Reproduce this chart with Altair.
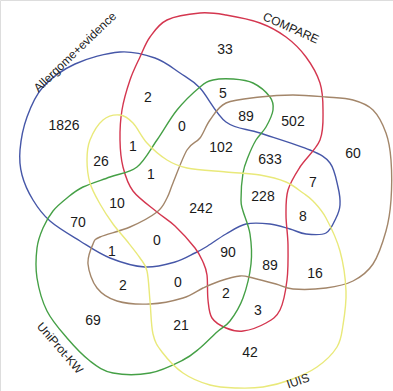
import altair as alt
import pandas as pd

# ---- set outlines (pixel layout of the 5-set Venn shapes) ----
blue_x = [120, 155, 180, 200, 226, 260, 310, 330, 338, 340, 336, 326, 306, 290, 270, 246, 226, 206, 195, 175, 145, 110, 80, 50, 33, 22, 20, 27, 43, 75]
blue_y = [52, 58, 73, 88, 122, 133, 150, 163, 187, 205, 218, 233, 234, 229, 224, 224, 234, 247, 253, 262, 267, 258, 241, 221, 200, 175, 150, 117, 87, 64]

red_x = [200, 226, 260, 286, 306, 320, 323, 320, 300, 288, 286, 288, 287, 280, 266, 243, 226, 212, 208, 207, 203, 195, 175, 157, 133, 123, 120, 122, 130, 140, 150, 167]
red_y = [13, 15, 23, 37, 57, 83, 110, 140, 167, 190, 215, 245, 280, 310, 323, 331, 328, 318, 300, 275, 262, 248, 226, 212, 191, 167, 140, 110, 80, 57, 37, 20]

green_x = [200, 213, 233, 253, 270, 273, 266, 256, 248, 243, 241, 243, 250, 251, 243, 230, 217, 200, 183, 150, 113, 90, 67, 47, 37, 37, 43, 53, 67, 83, 110, 137, 157, 177]
green_y = [87, 80, 79, 83, 97, 110, 127, 140, 157, 173, 200, 211, 234, 264, 298, 321, 332, 348, 360, 373, 373, 361, 338, 311, 278, 248, 228, 211, 198, 187, 177, 167, 140, 110]

brown_x = [200, 210, 226, 260, 293, 326, 353, 373, 386, 391, 391, 386, 373, 353, 326, 293, 276, 253, 240, 220, 203, 183, 150, 117, 97, 88, 93, 100, 130, 157, 167, 173, 187]
brown_y = [138, 120, 103, 97, 95, 97, 100, 110, 133, 160, 200, 231, 264, 281, 288, 289, 284, 278, 276, 281, 288, 298, 304, 301, 288, 264, 244, 237, 227, 212, 198, 183, 150]

yellow_x = [120, 133, 147, 167, 187, 226, 260, 286, 303, 313, 326, 340, 346, 343, 337, 317, 290, 263, 237, 210, 183, 162, 153, 150, 147, 140, 127, 113, 100, 90, 87, 90, 103]
yellow_y = [115, 123, 143, 160, 168, 172, 175, 182, 193, 201, 218, 251, 291, 325, 347, 367, 380, 387, 388, 385, 373, 352, 334, 301, 271, 258, 241, 224, 204, 183, 160, 140, 120]

set_names = ["Allergome+evidence", "COMPARE", "UniProt-KW", "Brown", "IUIS"]
set_colors = ["#4657a8", "#d4364f", "#45a046", "#a3866a", "#e9e97a"]
outlines = [(blue_x, blue_y), (red_x, red_y), (green_x, green_y), (brown_x, brown_y), (yellow_x, yellow_y)]

# ---- set labels ----
label_text = ["Allergome+evidence", "COMPARE", "UniProt-KW", "IUIS"]
label_x = [75, 291, 60, 298]
label_y = [52, 28, 348, 381]
label_angle = [316, 24, 49, 341]

# ---- region counts ----
counts = ["33", "2", "5", "1826", "0", "89", "502", "60", "26", "1", "102", "633", "1", "10",
          "242", "228", "7", "8", "70", "1", "0", "90", "89", "16", "2", "0", "2", "3", "69", "21", "42"]
count_x = [225, 148, 223, 64, 182, 246, 293, 353, 101, 133, 221, 270, 151, 117,
           201, 263, 313, 303, 78, 112, 157, 228, 270, 315, 123, 178, 226, 258, 93, 181, 250]
count_y = [50, 98, 94, 126, 127, 117, 122, 154, 162, 147, 148, 160, 175, 204,
           209, 197, 183, 217, 223, 252, 241, 253, 266, 274, 286, 283, 294, 311, 321, 326, 353]

rows = []
for name, color, (xs, ys) in zip(set_names, set_colors, outlines):
    for i, (xv, yv) in enumerate(zip(xs, ys)):
        rows.append({"set": name, "x": xv, "y": yv, "order": i})
outline_df = pd.DataFrame(rows)

xs = alt.Scale(domain=[0, 393])
ys = alt.Scale(domain=[0, 391], reverse=True)

lines = alt.Chart(outline_df).mark_line(interpolate="cardinal-closed", strokeWidth=1.4).encode(
    x=alt.X("x:Q", scale=xs, axis=None),
    y=alt.Y("y:Q", scale=ys, axis=None),
    order="order:Q",
    color=alt.Color("set:N", scale=alt.Scale(domain=set_names, range=set_colors), legend=None),
    detail="set:N",
)

lab_df = pd.DataFrame({"t": label_text, "x": label_x, "y": label_y, "a": label_angle})
labels = alt.Chart(lab_df).mark_text(font="Liberation Sans", fontSize=12, color="#222222").encode(
    x=alt.X("x:Q", scale=xs, axis=None),
    y=alt.Y("y:Q", scale=ys, axis=None),
    text="t:N",
    angle=alt.Angle("a:Q", scale=None),
)

cnt_df = pd.DataFrame({"t": counts, "x": count_x, "y": count_y})
nums = alt.Chart(cnt_df).mark_text(font="Liberation Sans", fontSize=14, color="#1a1a1a").encode(
    x=alt.X("x:Q", scale=xs, axis=None),
    y=alt.Y("y:Q", scale=ys, axis=None),
    text="t:N",
)

chart = alt.layer(lines, labels, nums).properties(
    width=393, height=391, padding=0, autosize=alt.AutoSizeParams(type="none")
).configure_view(stroke=None).configure(background="white")

chart.save("out.html", embed_options={"renderer": "svg", "actions": False})
